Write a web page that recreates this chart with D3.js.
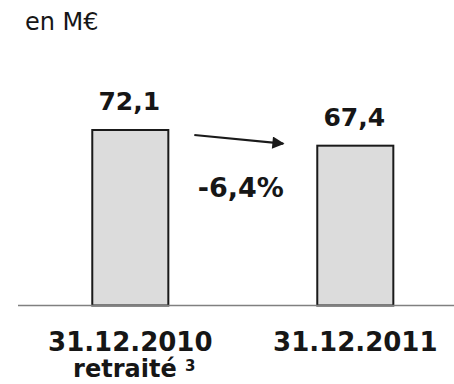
<!DOCTYPE html>
<html>
<head>
<meta charset="utf-8">
<script src="https://cdn.jsdelivr.net/npm/d3@7"></script>
<style>
  body { margin: 0; background: #fff; }
  svg text { font-family: "DejaVu Sans", Verdana, sans-serif; fill: #161616; }
</style>
</head>
<body>
<div id="chart"></div>
<script>
// data
const categories = ["31.12.2010", "31.12.2011"];
const values = [72.1, 67.4];
const valueLabels = ["72,1", "67,4"];
const changeLabel = "-6,4%";
const unitLabel = "en M€";

const width = 454, height = 384;

const svg = d3.select("#chart").append("svg")
    .attr("width", width)
    .attr("height", height);

// scales
const x = d3.scaleBand()
    .domain(categories)
    .range([17.8, 467.8])
    .paddingInner(0.662)
    .paddingOuter(0.331);

const y = d3.scaleLinear()
    .domain([19.5, 72.1])
    .range([305.5, 130]);

const baseY = y(19.5);

// unit
svg.append("text")
    .attr("x", 25)
    .attr("y", 30)
    .style("font-size", "24px")
    .text(unitLabel);

// bars
svg.selectAll("rect.bar")
    .data(values)
    .join("rect")
    .attr("class", "bar")
    .attr("x", (d, i) => x(categories[i]))
    .attr("y", d => y(d))
    .attr("width", x.bandwidth())
    .attr("height", d => baseY - y(d))
    .attr("fill", "#dcdcdc")
    .attr("stroke", "#1a1a1a")
    .attr("stroke-width", 2);

// baseline
svg.append("line")
    .attr("x1", 18).attr("x2", width)
    .attr("y1", baseY).attr("y2", baseY)
    .attr("stroke", "#808080")
    .attr("stroke-width", 1.5);

// value labels
svg.selectAll("text.val")
    .data(values)
    .join("text")
    .attr("class", "val")
    .attr("x", (d, i) => x(categories[i]) + x.bandwidth() / 2 - 1)
    .attr("y", d => y(d) - 20)
    .attr("text-anchor", "middle")
    .style("font-size", "25px")
    .style("font-weight", "bold")
    .text((d, i) => valueLabels[i]);

// arrow
svg.append("defs").append("marker")
    .attr("id", "arrowhead")
    .attr("viewBox", "0 0 10 10")
    .attr("refX", 9).attr("refY", 5)
    .attr("markerWidth", 7).attr("markerHeight", 5.5)
    .attr("markerUnits", "strokeWidth")
    .attr("orient", "auto")
    .append("path")
    .attr("d", "M0,0L10,5L0,10z")
    .attr("fill", "#1a1a1a");

const x0 = x(categories[0]) + x.bandwidth(), x1 = x(categories[1]);
svg.append("line")
    .attr("x1", x0 + 26).attr("y1", y(values[0]) + 5)
    .attr("x2", x1 - 34).attr("y2", y(values[1]) - 2)
    .attr("stroke", "#1a1a1a")
    .attr("stroke-width", 2.2)
    .attr("marker-end", "url(#arrowhead)");

// change label
svg.append("text")
    .attr("x", (x0 + x1) / 2 - 2)
    .attr("y", 197)
    .attr("text-anchor", "middle")
    .style("font-size", "27px")
    .style("font-weight", "bold")
    .text(changeLabel);

// category labels
svg.selectAll("text.cat")
    .data(categories)
    .join("text")
    .attr("class", "cat")
    .attr("x", d => x(d) + x.bandwidth() / 2)
    .attr("y", 351)
    .attr("text-anchor", "middle")
    .style("font-size", "26px")
    .style("font-weight", "bold")
    .text(d => d);

const sub = svg.append("text")
    .attr("x", x(categories[0]) + x.bandwidth() / 2 + 4)
    .attr("y", 377)
    .attr("text-anchor", "middle")
    .style("font-size", "24px")
    .style("font-weight", "bold");
sub.append("tspan").text("retraité ");
sub.append("tspan")
    .attr("dy", -6)
    .style("font-size", "15px")
    .text("3");
</script>
</body>
</html>
